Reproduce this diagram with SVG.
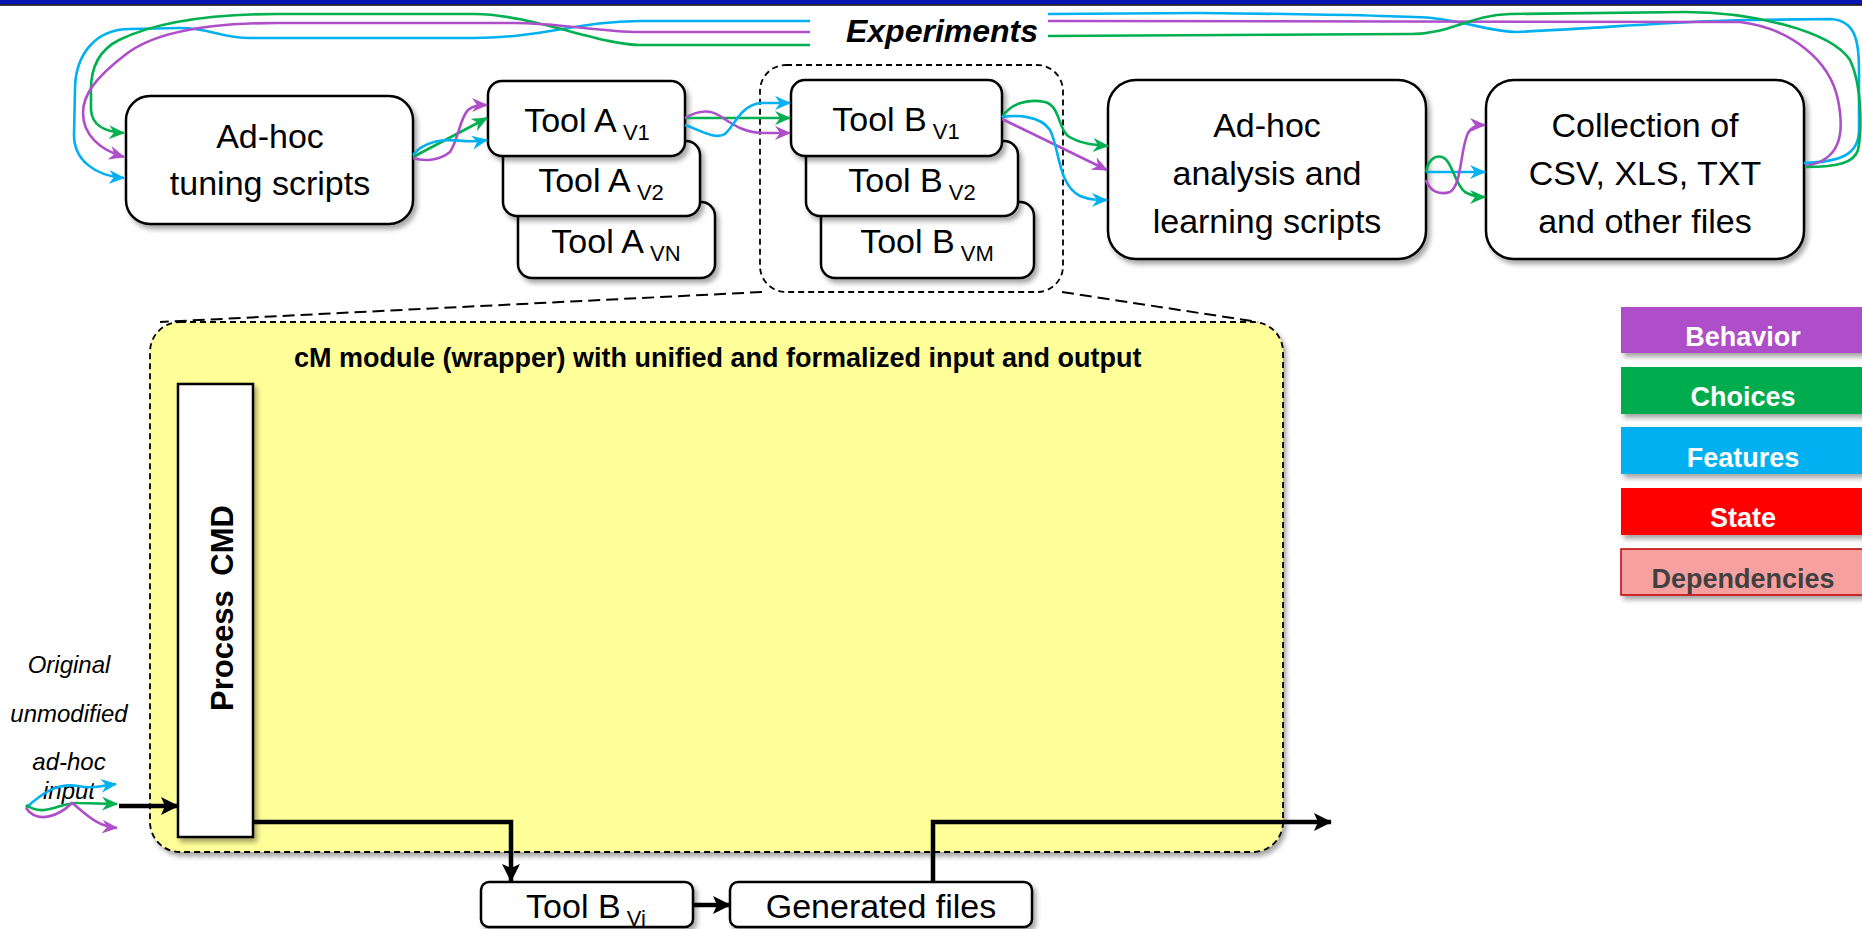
<svg xmlns="http://www.w3.org/2000/svg" width="1862" height="929" viewBox="0 0 1862 929">
<style>
.box{fill:#fff;stroke:#000;stroke-width:2.5}
.t{font-family:"Liberation Sans",Arial,sans-serif;font-size:34px;fill:#000}
.sub{font-size:22px}
.lg{font-family:"Liberation Sans",Arial,sans-serif;font-size:27px;font-weight:bold;fill:#fff;text-anchor:middle}
.cb{fill:none;stroke:#00B0F0;stroke-width:2.6}
.cg{fill:none;stroke:#00B050;stroke-width:2.6}
.cp{fill:none;stroke:#AE4FC9;stroke-width:2.6}
.k{fill:none;stroke:#000;stroke-width:4.5}
</style>
<defs>
<filter id="sh" x="-10%" y="-10%" width="130%" height="140%">
<feDropShadow dx="3" dy="4" stdDeviation="2.5" flood-color="#000" flood-opacity="0.35"/>
</filter>
<marker id="ab" markerUnits="userSpaceOnUse" markerWidth="16" markerHeight="14" viewBox="0 0 16 14" refX="15" refY="7" orient="auto"><path d="M0,0 L16,7 L0,14 L5,7 z" fill="#00B0F0"/></marker>
<marker id="ag" markerUnits="userSpaceOnUse" markerWidth="16" markerHeight="14" viewBox="0 0 16 14" refX="15" refY="7" orient="auto"><path d="M0,0 L16,7 L0,14 L5,7 z" fill="#00B050"/></marker>
<marker id="ap" markerUnits="userSpaceOnUse" markerWidth="16" markerHeight="14" viewBox="0 0 16 14" refX="15" refY="7" orient="auto"><path d="M0,0 L16,7 L0,14 L5,7 z" fill="#AE4FC9"/></marker>
<marker id="ak" markerUnits="userSpaceOnUse" markerWidth="18" markerHeight="18" viewBox="0 0 18 18" refX="17" refY="9" orient="auto"><path d="M0,0 L18,9 L0,18 L4,9 z" fill="#000"/></marker>
</defs>
<rect width="1862" height="929" fill="#fff"/>
<rect x="0" y="0" width="1862" height="4.5" fill="#0a14b4"/>
<line x1="0" y1="5" x2="1862" y2="5" stroke="#000" stroke-width="1.5"/>

<!-- cM module -->
<g id="cm-module">
<rect x="150" y="322" width="1133" height="530" rx="30" fill="#FFFF99" stroke="#000" stroke-width="1.8" stroke-dasharray="6,4" filter="url(#sh)"/>
<text x="294" y="367" font-family="Liberation Sans,Arial,sans-serif" font-size="27" font-weight="bold">cM module (wrapper) with unified and formalized input and output</text>
</g>
<g id="zoom-lines" fill="none" stroke="#000" stroke-width="2" stroke-dasharray="12,6">
<line x1="762" y1="292" x2="160" y2="322"/>
<line x1="1062" y1="292" x2="1258" y2="322"/>
</g>
<g id="process-cmd">
<rect x="178" y="384" width="75" height="453" class="box" filter="url(#sh)"/>
<text transform="translate(233,608) rotate(-90)" text-anchor="middle" font-family="Liberation Sans,Arial,sans-serif" font-size="31" font-weight="bold" word-spacing="6">Process CMD</text>
</g>
<g id="input-label" font-family="Liberation Sans,Arial,sans-serif" font-size="24" font-style="italic" text-anchor="middle">
<text x="69" y="673">Original</text>
<text x="69" y="722">unmodified</text>
<text x="69" y="770">ad-hoc</text>
<text x="69" y="799">input</text>
</g>

<!-- top nodes -->
<g id="adhoc-tuning">
<rect x="126" y="96" width="287" height="128" rx="24" class="box" filter="url(#sh)"/>
<text class="t" x="270" y="148" text-anchor="middle">Ad-hoc</text>
<text class="t" x="270" y="195" text-anchor="middle">tuning scripts</text>
</g>
<g id="tool-a-vn">
<rect x="518" y="202" width="197" height="76" rx="14" class="box" filter="url(#sh)"/>
<text class="t" x="616" y="253" text-anchor="middle">Tool A<tspan class="sub" dy="8"> VN</tspan></text>
</g>
<g id="tool-a-v2">
<rect x="503" y="141" width="197" height="75" rx="14" class="box" filter="url(#sh)"/>
<text class="t" x="601" y="192" text-anchor="middle">Tool A<tspan class="sub" dy="8"> V2</tspan></text>
</g>
<g id="tool-a-v1">
<rect x="488" y="81" width="197" height="75" rx="14" class="box" filter="url(#sh)"/>
<text class="t" x="587" y="132" text-anchor="middle">Tool A<tspan class="sub" dy="8"> V1</tspan></text>
</g>
<g id="tool-b-frame">
<rect x="760" y="65" width="303" height="227" rx="26" fill="none" stroke="#000" stroke-width="1.8" stroke-dasharray="6,4"/>
</g>
<g id="tool-b-vm">
<rect x="821" y="202" width="213" height="76" rx="14" class="box" filter="url(#sh)"/>
<text class="t" x="927" y="253" text-anchor="middle">Tool B<tspan class="sub" dy="8"> VM</tspan></text>
</g>
<g id="tool-b-v2">
<rect x="806" y="141" width="212" height="75" rx="14" class="box" filter="url(#sh)"/>
<text class="t" x="912" y="192" text-anchor="middle">Tool B<tspan class="sub" dy="8"> V2</tspan></text>
</g>
<g id="tool-b-v1">
<rect x="791" y="80" width="211" height="76" rx="14" class="box" filter="url(#sh)"/>
<text class="t" x="896" y="131" text-anchor="middle">Tool B<tspan class="sub" dy="8"> V1</tspan></text>
</g>
<g id="adhoc-analysis">
<rect x="1108" y="80" width="318" height="179" rx="28" class="box" filter="url(#sh)"/>
<text class="t" x="1267" y="137" text-anchor="middle">Ad-hoc</text>
<text class="t" x="1267" y="185" text-anchor="middle">analysis and</text>
<text class="t" x="1267" y="233" text-anchor="middle">learning scripts</text>
</g>
<g id="collection">
<rect x="1486" y="80" width="318" height="179" rx="28" class="box" filter="url(#sh)"/>
<text class="t" x="1645" y="137" text-anchor="middle">Collection of</text>
<text class="t" x="1645" y="185" text-anchor="middle">CSV, XLS, TXT</text>
<text class="t" x="1645" y="233" text-anchor="middle">and other files</text>
</g>
<g id="experiments-label">
<text x="942" y="42" text-anchor="middle" font-family="Liberation Sans,Arial,sans-serif" font-size="32" font-weight="bold" font-style="italic">Experiments</text>
</g>

<!-- bottom nodes -->
<g id="tool-b-vi">
<rect x="481" y="882" width="212" height="45" rx="8" class="box" filter="url(#sh)"/>
<text class="t" x="586" y="918" text-anchor="middle" font-size="31">Tool B<tspan class="sub" dy="8"> Vi</tspan></text>
</g>
<g id="generated-files">
<rect x="730" y="882" width="302" height="45" rx="8" class="box" filter="url(#sh)"/>
<text class="t" x="881" y="918" text-anchor="middle" font-size="32">Generated files</text>
</g>

<!-- legend -->
<g id="legend-behavior"><rect x="1621" y="307" width="245" height="46" fill="#AE4FC9" filter="url(#sh)"/><text class="lg" x="1743" y="346">Behavior</text></g>
<g id="legend-choices"><rect x="1621" y="367" width="245" height="47" fill="#00AC4E" filter="url(#sh)"/><text class="lg" x="1743" y="406">Choices</text></g>
<g id="legend-features"><rect x="1621" y="427" width="245" height="47" fill="#00B0F0" filter="url(#sh)"/><text class="lg" x="1743" y="467">Features</text></g>
<g id="legend-state"><rect x="1621" y="488" width="245" height="47" fill="#FF0000" filter="url(#sh)"/><text class="lg" x="1743" y="527">State</text></g>
<g id="legend-dependencies"><rect x="1621" y="549" width="245" height="46" fill="#F6A0A0" stroke="#C00000" stroke-width="1.5" filter="url(#sh)"/><text class="lg" x="1743" y="588" fill="#404040" style="fill:#404040">Dependencies</text></g>

<!-- connectors -->
<g id="connectors">
<!-- experiments loop, left part -->
<path class="cb" marker-end="url(#ab)" d="M810,21 L640,21 C580,21 540,38 474,38 L250,38 C220,38 210,28 180,28 L130,29 C95,29 75,55 75,90 L74,135 C74,160 95,176 124,178"/>
<path class="cg" marker-end="url(#ag)" d="M810,45 L640,45 C600,45 530,14 474,14 L277,14 C200,14 150,25 119,40 C95,52 90,75 91,95 L91,110 C92,125 105,132 124,133"/>
<path class="cp" marker-end="url(#ap)" d="M810,32 L640,32 C600,32 560,23 514,23 L277,23 C200,23 150,35 125,55 C95,78 83,95 83,113 C83,135 100,150 124,157"/>
<!-- experiments loop, right part -->
<path class="cb" d="M1804,163 C1840,162 1859,155 1859,130 L1859,70 C1859,40 1855,20 1830,19 L1749,20 C1700,20 1600,28 1517,32 C1490,32 1470,22 1432,18 C1400,16 1300,14 1200,13 L1048,14"/>
<path class="cp" d="M1806,166 C1840,160 1845,135 1838,100 C1830,60 1790,28 1740,22 L1048,21"/>
<path class="cg" d="M1806,167 C1840,167 1854,162 1858,150 C1862,130 1862,85 1850,60 C1830,30 1750,12 1685,12 L1510,14 C1470,15 1450,34 1411,34 L1048,36"/>
<!-- tuning -> tool A -->
<path class="cg" marker-end="url(#ag)" d="M413,157 L487,118"/>
<path class="cp" marker-end="url(#ap)" d="M413,158 C425,162 440,160 450,152 C458,140 460,118 468,110 C474,105 480,105 487,105"/>
<path class="cb" marker-end="url(#ab)" d="M413,155 C420,146 432,141 447,140 C460,140 470,143 487,140"/>
<!-- tool A -> tool B -->
<path class="cg" marker-end="url(#ag)" d="M685,118 L790,118"/>
<path class="cp" marker-end="url(#ap)" d="M685,118 C695,112 708,108 720,116 C735,126 745,133 765,133 L790,133"/>
<path class="cb" marker-end="url(#ab)" d="M685,125 C700,130 715,140 725,134 C735,125 740,106 760,103 L790,103"/>
<!-- tool B -> analysis -->
<path class="cg" marker-end="url(#ag)" d="M1002,117 C1010,105 1025,98 1045,102 C1060,106 1058,128 1068,136 C1080,144 1095,145 1108,146"/>
<path class="cp" marker-end="url(#ap)" d="M1002,119 L1107,170"/>
<path class="cb" marker-end="url(#ab)" d="M1002,117 C1015,115 1040,115 1050,130 C1060,150 1058,185 1080,196 C1090,200 1098,200 1107,200"/>
<!-- analysis -> collection -->
<path class="cb" marker-end="url(#ab)" d="M1426,172 L1485,172"/>
<path class="cg" marker-end="url(#ag)" d="M1426,172 C1428,160 1435,155 1442,157 C1452,160 1455,185 1465,192 C1472,196 1478,197 1485,197"/>
<path class="cp" marker-end="url(#ap)" d="M1426,180 C1430,192 1440,195 1450,192 C1462,185 1460,150 1468,133 C1472,126 1478,125 1485,125"/>
<!-- input -->
<path class="cb" marker-end="url(#ab)" d="M26,808 C45,790 60,783 78,786 C92,789 100,786 116,784"/>
<path class="cg" marker-end="url(#ag)" d="M26,805 C45,818 60,802 78,803 L117,804"/>
<path class="cp" marker-end="url(#ap)" d="M26,808 C38,825 60,815 72,803 C84,812 95,826 117,828"/>
<path class="k" marker-end="url(#ak)" d="M119,806 L178,806"/>
<!-- output chain -->
<path class="k" marker-end="url(#ak)" d="M253,822 L511,822 L511,881"/>
<path class="k" marker-end="url(#ak)" d="M693,905 L730,905"/>
<path class="k" marker-end="url(#ak)" d="M933,882 L933,822 L1331,822"/>
</g>
</svg>
